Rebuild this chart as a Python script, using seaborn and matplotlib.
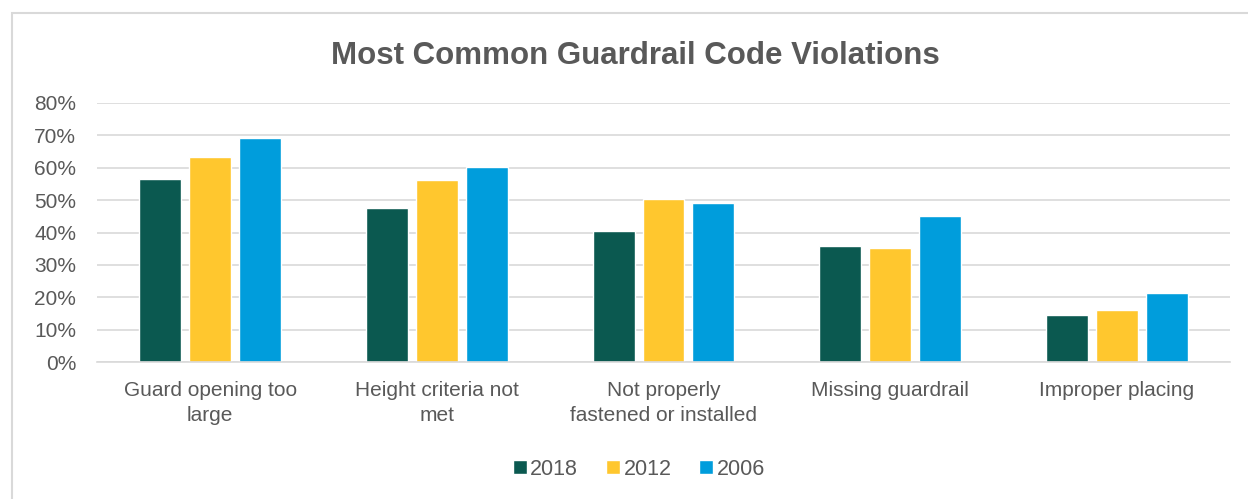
import pandas as pd
import matplotlib.pyplot as plt
import seaborn as sns
from matplotlib.patches import Rectangle
from matplotlib.ticker import PercentFormatter

# 数据
categories = [
    "Guard opening too\nlarge",
    "Height criteria not\nmet",
    "Not properly\nfastened or installed",
    "Missing guardrail",
    "Improper placing",
]
years = ["2018", "2012", "2006"]
values_2018 = [56.6, 47.5, 40.5, 35.8, 14.6]
values_2012 = [63.2, 56.2, 50.2, 35.3, 16.2]
values_2006 = [69.2, 60.3, 49.2, 45.2, 21.2]
colors = ["#0B5950", "#FFC72E", "#009DDC"]

df = pd.DataFrame({
    "category": categories * 3,
    "year": ["2018"] * 5 + ["2012"] * 5 + ["2006"] * 5,
    "value": values_2018 + values_2012 + values_2006,
})

sns.set_theme(style="white")
plt.rcParams["font.family"] = ["Liberation Sans", "DejaVu Sans"]
text_color = "#595959"
grid_color = "#D9D9D9"

fig = plt.figure(figsize=(12.48, 4.99), dpi=100)
ax = fig.add_axes([0.0777, 0.2745, 0.9079, 0.5191])

sns.barplot(
    data=df, x="category", y="value", hue="year", hue_order=years,
    palette=colors, width=0.66, gap=0.16, saturation=1, ax=ax,
)

ax.set_ylim(0, 80)
ax.set_xlim(-0.5, 4.5)
ax.set_yticks(range(0, 81, 10))
ax.yaxis.set_major_formatter(PercentFormatter(decimals=0))
ax.grid(axis="y", color=grid_color, linewidth=1.2)
ax.set_axisbelow(True)
for side in ["top", "right", "left"]:
    ax.spines[side].set_visible(False)
ax.spines["bottom"].set_color(grid_color)
ax.spines["bottom"].set_linewidth(1.2)
ax.tick_params(axis="both", length=0, labelsize=15, colors=text_color)
ax.tick_params(axis="x", pad=14)
ax.tick_params(axis="y", pad=15)
for lbl in ax.get_xticklabels():
    lbl.set_linespacing(1.35)
ax.set_xlabel("")
ax.set_ylabel("")

fig.suptitle("Most Common Guardrail Code Violations", x=0.509, y=0.917,
             fontsize=22.5, fontweight="bold", color=text_color)

ax.legend(loc="center", bbox_to_anchor=(0.512, 0.06), bbox_transform=fig.transFigure,
          ncol=3, frameon=False, fontsize=15.5, labelcolor=text_color,
          handlelength=0.65, handleheight=0.65, handletextpad=0.15, columnspacing=1.3)

# 外框
fig.patches.append(Rectangle((12 / 1248, -0.1), 1.2, 1 - 13 / 499 + 0.1,
                             transform=fig.transFigure, fill=False,
                             edgecolor="#D9D9D9", linewidth=1.5))

fig.savefig("out.png", dpi=100)
